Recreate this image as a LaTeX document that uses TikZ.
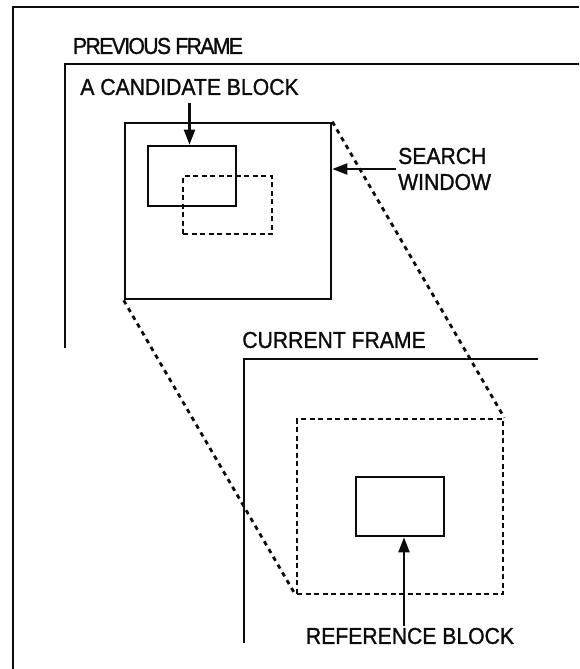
\documentclass[tikz,border=0pt]{standalone}
\usepackage{fontspec}
\setmainfont[FakeStretch=0.92,FakeBold=1.2]{Liberation Sans}
\usetikzlibrary{arrows.meta,positioning,calc}
\definecolor{ink}{RGB}{12,12,12}
\tikzset{
  >={Triangle[length=15pt,width=11pt]},
  frame/.style={draw=ink,line width=2.6pt},
  blk/.style={draw=ink,line width=2.6pt,inner sep=0pt},
  dblk/.style={blk,dash pattern=on 5pt off 3.5pt},
  link/.style={draw=ink,line width=2.8pt,dash pattern=on 4.5pt off 4.5pt},
  pointer/.style={->,draw=ink,line width=2.2pt},
  lbl/.style={font=\fontsize{23}{26}\selectfont,text=ink,inner sep=2pt,align=left},
}
\begin{document}
\begin{tikzpicture}[x=1pt,y=-1pt]
  \useasboundingbox (0,0) rectangle (579,669);
  % frames
  \draw[frame] (13,669) |- (579,7);
  \draw[frame] (65,348) |- (579,64);
  \draw[frame] (244,643) |- (538,359);
  \node[lbl] (prevlbl) at (158,46) {\addfontfeature{LetterSpace=-7}PREVIOUS FRAME};
  \node[lbl] (curlbl) at (334,340) {CURRENT FRAME};
  % previous frame: search window and candidates
  \node[blk,minimum width=206pt,minimum height=176pt] (sw) at (228,211) {};
  \node[blk,minimum width=88pt,minimum height=60pt] (cand) at (192,176) {};
  \node[dblk,minimum width=89pt,minimum height=58pt] (cand2) at (227.5,205) {};
  % current frame: search region and reference block
  \node[dblk,minimum width=206pt,minimum height=175pt] (sr) at (400,506.5) {};
  \node[blk,minimum width=88pt,minimum height=59pt] (ref) at (400,506.5) {};
  \draw[link] (sw.north east) -- (sr.north east);
  \draw[link] (sw.south west) -- (sr.south west);
  % labels
  \node[lbl] (candlbl) at (189.5,87) {A CANDIDATE BLOCK};
  \node[lbl,anchor=west] (swlbl) at (396,169) {SEARCH\\WINDOW};
  \node[lbl] (reflbl) at (410,636) {REFERENCE BLOCK};
  \draw[pointer] ([yshift=-6pt]candlbl.south) -- (candlbl.south |- cand.north);
  \draw[pointer] (swlbl.west) -- (sw.east |- swlbl.west);
  \draw[pointer] ([xshift=4pt]reflbl.north -| ref.south) -- ([xshift=4pt]ref.south);
\end{tikzpicture}
\end{document}
